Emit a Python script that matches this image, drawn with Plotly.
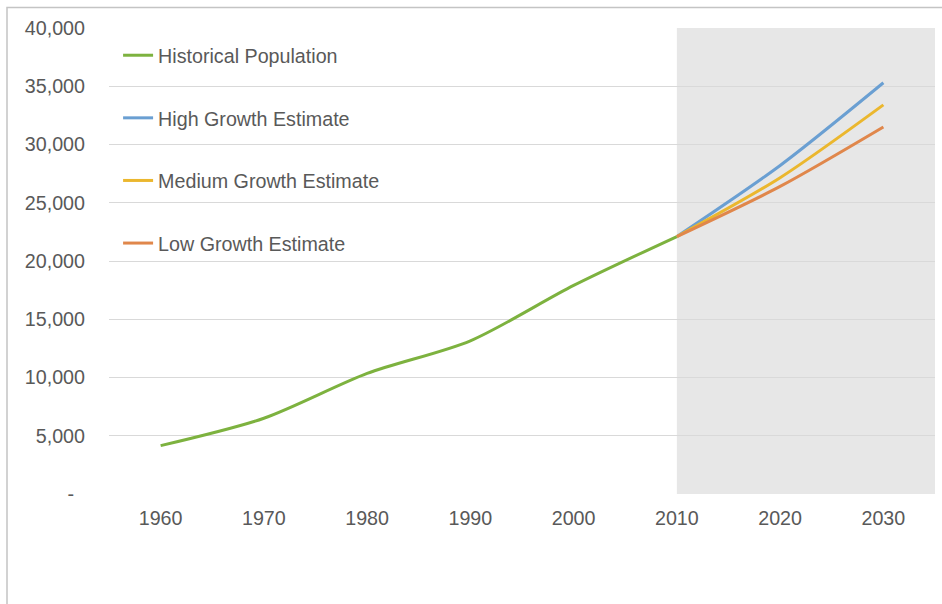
import plotly.graph_objects as go

# Decade data (population)
HIST_YEARS = [1960, 1970, 1980, 1990, 2000, 2010]
HIST_POP = [4150, 6500, 10350, 13150, 17900, 22100]

PROJ_YEARS = [2010, 2020, 2030]
HIGH_POP = [22100, 28200, 35300]
MEDIUM_POP = [22100, 27150, 33400]
LOW_POP = [22100, 26400, 31500]

X_TICKS = [1960, 1970, 1980, 1990, 2000, 2010, 2020, 2030]
Y_TICKS = [0, 5000, 10000, 15000, 20000, 25000, 30000, 35000, 40000]
Y_LABELS = ["-\u00a0\u00a0", "5,000", "10,000", "15,000", "20,000",
            "25,000", "30,000", "35,000", "40,000"]

X_RANGE = [1955, 2035]
Y_RANGE = [0, 40000]
FORECAST_START = PROJ_YEARS[0]

FONT = "Liberation Sans, Arial, sans-serif"
TEXT = "#595959"

series = [
    ("Historical Population", HIST_YEARS, HIST_POP, "#7DB23F"),
    ("High Growth Estimate", PROJ_YEARS, HIGH_POP, "#6A9FD2"),
    ("Medium Growth Estimate", PROJ_YEARS, MEDIUM_POP, "#EBB72E"),
    ("Low Growth Estimate", PROJ_YEARS, LOW_POP, "#E0874B"),
]

fig = go.Figure()
for i, (name, xs, ys, color) in enumerate(series):
    fig.add_trace(go.Scatter(
        x=xs, y=ys, name=name, mode="lines",
        line=dict(color=color, width=3, shape="spline", smoothing=0.8),
        legendgroup=f"g{i}",
    ))

# Forecast period shading
fig.add_shape(type="rect", xref="x", yref="y",
              x0=FORECAST_START, x1=X_RANGE[1], y0=Y_RANGE[0], y1=Y_RANGE[1],
              fillcolor="#E7E7E7", line=dict(width=0), layer="below")

# Chart-area border
fig.add_shape(type="rect", xref="paper", yref="paper",
              x0=(7 - 109) / 826, x1=(960 - 109) / 826,
              y0=(494 - 640) / 466, y1=1 + (28 - 7.5) / 466,
              line=dict(color="#C4C4C4", width=1.5), fillcolor="rgba(0,0,0,0)",
              layer="below")

fig.update_layout(
    width=942, height=604,
    margin=dict(l=109, r=7, t=28, b=110),
    paper_bgcolor="white", plot_bgcolor="white",
    font=dict(family=FONT, size=19.7, color=TEXT),
    showlegend=True,
    legend=dict(
        x=0.011, y=0.983, xanchor="left", yanchor="top",
        bgcolor="rgba(0,0,0,0)", tracegroupgap=34,
        font=dict(family=FONT, size=19.7, color=TEXT),
        itemwidth=30,
    ),
    xaxis=dict(
        range=X_RANGE, tickvals=X_TICKS, showgrid=False, zeroline=False,
        showline=False, ticks="", ticklabelstandoff=10,
        tickfont=dict(family=FONT, size=19.7, color=TEXT),
    ),
    yaxis=dict(
        range=Y_RANGE, tickvals=Y_TICKS, ticktext=Y_LABELS,
        showgrid=True, gridcolor="#D9D9D9", gridwidth=1,
        zeroline=False, showline=False, ticks="", ticklabelstandoff=23,
        tickfont=dict(family=FONT, size=19.7, color=TEXT),
    ),
)

fig.write_html("out.html")
